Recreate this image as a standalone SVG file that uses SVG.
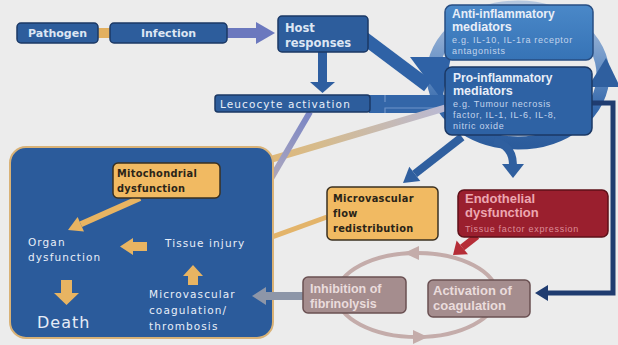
<svg xmlns="http://www.w3.org/2000/svg" width="618" height="345" viewBox="0 0 618 345">
<style>
.bx{fill:#2d5d9c;stroke:#1b3864;stroke-width:1.5}
.tan{fill:#f1ba62;stroke:#3a3020;stroke-width:1.5}
.coag{fill:#a58d8e;stroke:#6a5052;stroke-width:1.5}
.hb{font-family:"DejaVu Sans",sans-serif;font-weight:bold;fill:#dde6f3}
.wt{font-family:"DejaVu Sans",sans-serif;fill:#e8eef8;font-size:10.5px;letter-spacing:1.1px}
.ab{font-family:"Liberation Sans",Arial,sans-serif;font-weight:bold}
.sm{font-family:"Liberation Sans",Arial,sans-serif;font-size:9px;letter-spacing:0.7px}
.tt{font-family:"DejaVu Sans",sans-serif;font-weight:bold;font-size:9.8px;fill:#2a2418;letter-spacing:0.3px}
.ta{fill:#e8b462}
</style>
<defs>
<linearGradient id="g1" gradientUnits="userSpaceOnUse" x1="310" y1="112" x2="240" y2="232">
<stop offset="0" stop-color="#7884c4"/><stop offset="0.45" stop-color="#a4a2c0"/><stop offset="1" stop-color="#dcb474"/>
</linearGradient>
<linearGradient id="g2" gradientUnits="userSpaceOnUse" x1="445" y1="108" x2="235" y2="170">
<stop offset="0" stop-color="#b9b9d4"/><stop offset="0.6" stop-color="#d6bb8c"/><stop offset="1" stop-color="#e6b66a"/>
</linearGradient>
<linearGradient id="ring" gradientUnits="userSpaceOnUse" x1="0" y1="5" x2="0" y2="145">
<stop offset="0" stop-color="#b4c6de"/><stop offset="0.4" stop-color="#6f96c8"/><stop offset="0.75" stop-color="#3568aa"/><stop offset="1" stop-color="#2c5c9c"/>
</linearGradient>
<linearGradient id="antig" x1="0" y1="0" x2="0" y2="1">
<stop offset="0" stop-color="#4a88c8"/><stop offset="1" stop-color="#3673b6"/>
</linearGradient>
</defs>
<rect width="618" height="345" fill="#ececec"/>

<g id="connectors">
<!-- ring around mediators -->
<ellipse cx="518" cy="75" rx="85" ry="68" fill="none" stroke="url(#ring)" stroke-width="13"/>
<polygon points="588,87 620,87 606,58" fill="#2f5f9f"/>
<!-- ring branch down to endothelial -->
<path d="M494,141 Q513,146 513,165" fill="none" stroke="#2f5f9f" stroke-width="8"/>
<polygon points="502,164 524,164 513,178" fill="#2f5f9f"/>
<!-- pathogen - infection link -->
<rect x="97" y="28" width="14" height="10" fill="#e2b060"/>
<!-- infection -> host -->
<rect x="226" y="28" width="33" height="10" fill="#6b78be"/>
<polygon points="256,22 275,33 256,44" fill="#6b78be"/>
<!-- host -> leucocyte -->
<rect x="318" y="51" width="9" height="32" fill="#2e5ea0"/>
<polygon points="310,82 335,82 322.5,93" fill="#2e5ea0"/>
<!-- host -> pro-inflammatory -->
<line x1="364" y1="38" x2="428" y2="86" stroke="#2f62a6" stroke-width="13"/>
<polygon points="410,57 451,57 442,100" fill="#2f62a6"/>
<!-- leucocyte -> pro band -->
<rect x="369" y="95" width="79" height="18" fill="#3366a8"/>
<path d="M385,95 V102 M385,113 V108 H448" fill="none" stroke="#6f93c9" stroke-width="1.2"/>
<!-- right return line to activation of coagulation -->
<path d="M592,103 H613 V293 H545" fill="none" stroke="#1f3c70" stroke-width="5"/>
<polygon points="548,285 548,301 535,293" fill="#1f3c70"/>
<!-- pro -> mitochondrial -->
<line x1="445" y1="108" x2="240.3" y2="168.5" stroke="url(#g2)" stroke-width="7"/>
<polygon points="225,173 237.8,159.9 242.8,177.1" fill="#e6b66a"/>
<!-- leucocyte -> tissue injury -->
<line x1="310" y1="112" x2="245.1" y2="222.9" stroke="url(#g1)" stroke-width="6"/>
<polygon points="238,235 238.2,218.9 252,226.9" fill="#dcb474"/>
<!-- pro -> microvascular flow -->
<line x1="462" y1="137" x2="414.8" y2="173.8" stroke="#2f5f9f" stroke-width="8"/>
<polygon points="403,183 409.3,166.7 420.3,180.9" fill="#2f5f9f"/>
<!-- microvascular flow -> tissue injury -->
<line x1="327" y1="217" x2="270.2" y2="237.6" stroke="#e3b46a" stroke-width="5"/>
<polygon points="258,242 267.5,230.1 272.9,245.1" fill="#e3b46a"/>
<!-- coagulation cycle -->
<ellipse cx="417" cy="295" rx="80" ry="42" fill="none" stroke="#c4acaa" stroke-width="4"/>
<polygon points="404,253 419,246 419,260" fill="#c4acaa"/>
<polygon points="428,337 413,330 413,344" fill="#c4acaa"/>
<!-- endothelial -> activation -->
<line x1="477" y1="236" x2="462.3" y2="247.4" stroke="#b52d37" stroke-width="7"/>
<polygon points="453,255 456.6,240.5 468,254.3" fill="#b52d37"/>
</g>

<g id="bigbox">
<rect x="10" y="147" width="263" height="191" rx="16" fill="#2b5b9b" stroke="#d9b277" stroke-width="2"/>
<text class="wt" x="28" y="246">Organ</text>
<text class="wt" x="28" y="261">dysfunction</text>
<text class="wt" x="165" y="247">Tissue injury</text>
<text class="wt" x="149" y="298">Microvascular</text>
<text class="wt" x="149" y="314">coagulation/</text>
<text class="wt" x="149" y="330">thrombosis</text>
<text x="37" y="328" font-family="DejaVu Sans,sans-serif" font-size="16" letter-spacing="1" fill="#e6ecf6">Death</text>
<!-- internal arrows -->
<line x1="140" y1="198" x2="80.8" y2="224.3" stroke="#e8b462" stroke-width="6"/>
<polygon class="ta" points="68,230 77.6,217 84,231.6"/>
<polygon class="ta" points="120,246.5 133,238 133,242 147,242 147,251 133,251 133,255"/>
<polygon class="ta" points="61,280 72,280 72,293 79,293 66.5,305 54,293 61,293"/>
<polygon class="ta" points="193,265 203,276 198,276 198,285 188,285 188,276 183,276"/>
<!-- inhibition -> microvascular coagulation -->
<rect x="264" y="292" width="40" height="8" fill="#8d96a8"/>
<polygon points="252,296 266,287 266,305" fill="#8d96a8"/>
</g>

<g id="pathogen">
<rect class="bx" x="17" y="23" width="81" height="20" rx="4"/>
<text class="hb" x="57.5" y="37" font-size="11" text-anchor="middle">Pathogen</text>
</g>
<g id="infection">
<rect class="bx" x="110" y="23" width="117" height="20" rx="4"/>
<text class="hb" x="168.5" y="37" font-size="11" text-anchor="middle">Infection</text>
</g>
<g id="host">
<rect class="bx" x="278" y="16" width="90" height="36" rx="4"/>
<text class="hb" x="285" y="32" font-size="11.5">Host</text>
<text class="hb" x="285" y="47" font-size="11.5">responses</text>
</g>
<g id="leucocyte">
<rect class="bx" x="215" y="95" width="155" height="17" rx="3"/>
<text class="wt" x="220" y="108" letter-spacing="1">Leucocyte activation</text>
</g>
<g id="anti">
<rect x="445" y="5" width="148" height="55" rx="7" fill="url(#antig)" stroke="#274d82" stroke-width="1.5"/>
<text class="ab" x="452" y="18" font-size="12" fill="#e8eef8">Anti-inflammatory</text>
<text class="ab" x="452" y="31" font-size="12.5" fill="#e8eef8">mediators</text>
<text class="sm" x="452" y="43" fill="#c2d4ec">e.g. IL-10, IL-1ra receptor</text>
<text class="sm" x="452" y="54" fill="#c2d4ec">antagonists</text>
</g>
<g id="pro">
<rect x="445" y="67" width="147" height="68" rx="7" fill="#2e62a4" stroke="#1b3864" stroke-width="1.5"/>
<text class="ab" x="453" y="82" font-size="12" fill="#e8eef8">Pro-inflammatory</text>
<text class="ab" x="453" y="95" font-size="12.5" fill="#e8eef8">mediators</text>
<text class="sm" x="453" y="107" fill="#c2d4ec">e.g. Tumour necrosis</text>
<text class="sm" x="453" y="118" fill="#c2d4ec">factor, IL-1, IL-6, IL-8,</text>
<text class="sm" x="453" y="129" fill="#c2d4ec">nitric oxide</text>
</g>
<g id="mito">
<rect class="tan" x="113" y="163" width="107" height="35" rx="5"/>
<text class="tt" x="117" y="177" letter-spacing="0">Mitochondrial</text>
<text class="tt" x="117" y="192" letter-spacing="0">dysfunction</text>
</g>
<g id="microflow">
<rect class="tan" x="327" y="187" width="111" height="53" rx="5"/>
<text class="tt" x="333" y="202">Microvascular</text>
<text class="tt" x="333" y="217">flow</text>
<text class="tt" x="333" y="232">redistribution</text>
</g>
<g id="endothelial">
<rect x="458" y="190" width="150" height="47" rx="6" fill="#9a1f2e" stroke="#5e1119" stroke-width="1.5"/>
<text class="ab" x="465" y="203" font-size="13" fill="#eca7b1">Endothelial</text>
<text class="ab" x="465" y="217" font-size="13" fill="#eca7b1">dysfunction</text>
<text class="sm" x="465" y="232" letter-spacing="0.9" fill="#dc8c97">Tissue factor expression</text>
</g>
<g id="inhibition">
<rect class="coag" x="303" y="277" width="103" height="36" rx="5"/>
<text class="ab" x="310" y="293" font-size="12.5" fill="#eadcdc">Inhibition of</text>
<text class="ab" x="310" y="308" font-size="12.5" fill="#eadcdc">fibrinolysis</text>
</g>
<g id="activation">
<rect class="coag" x="428" y="280" width="102" height="37" rx="5"/>
<text class="ab" x="433" y="295" font-size="13" fill="#eadcdc">Activation of</text>
<text class="ab" x="433" y="310" font-size="13" fill="#eadcdc">coagulation</text>
</g>
</svg>
